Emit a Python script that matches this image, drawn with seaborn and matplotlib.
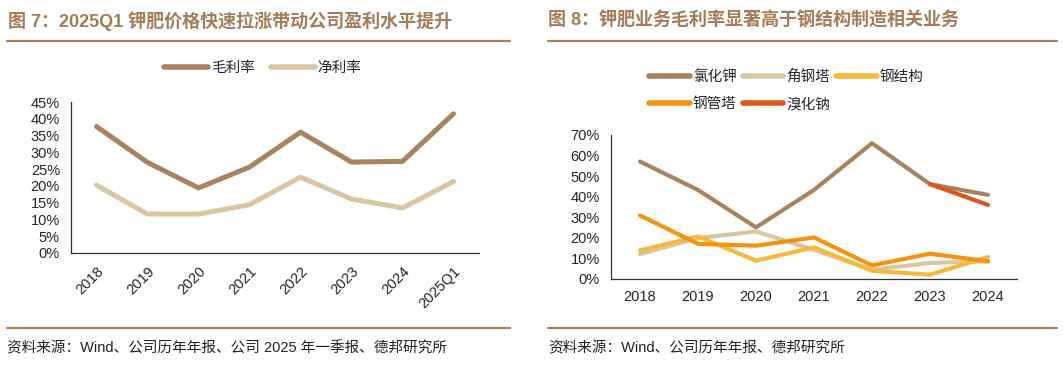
import matplotlib
import matplotlib.pyplot as plt
import pandas as pd
import seaborn as sns
from matplotlib.lines import Line2D
from matplotlib.ticker import FixedLocator, PercentFormatter

matplotlib.use("Agg")

# left chart: margins
years_left = ['2018', '2019', '2020', '2021', '2022', '2023', '2024', '2025Q1']
gross_margin = [37.7, 27.0, 19.4, 25.6, 36.0, 27.1, 27.3, 41.5]
net_margin = [20.2, 11.6, 11.6, 14.4, 22.6, 16.1, 13.4, 21.3]

# right chart: segment gross margins
years_right = ['2018', '2019', '2020', '2021', '2022', '2023', '2024']
kcl = [57.1, 43.3, 25.1, 43.3, 66.0, 46.1, 40.9]
angle_tower = [12.1, 19.9, 23.1, 14.2, 4.5, 7.8, 8.6]
steel_struct = [13.9, 20.7, 8.9, 15.4, 4.0, 2.1, 10.7]
tube_tower = [30.9, 17.1, 16.2, 20.2, 6.6, 12.3, 8.6]
nabr = [None, None, None, None, None, 46.1, 36.0]

BROWN = '#A8835D'
BEIGE = '#D9C7A1'
TITLE_C = '#A47C58'
W, H = 1063, 369

sns.set_style('white')
plt.rcParams['font.family'] = ['Liberation Sans', 'Noto Sans CJK SC']
plt.rcParams['axes.unicode_minus'] = False

fig = plt.figure(figsize=(W / 100, H / 100), dpi=100)


def fx(px):
    return px / W


def fy(py):
    return 1 - py / H


def style_axis(ax, n, ymax, ystep):
    ax.set_xlim(-0.5, n - 0.5)
    ax.set_ylim(0, ymax)
    ax.set_yticks(range(0, ymax + 1, ystep))
    ax.yaxis.set_major_formatter(PercentFormatter(decimals=0))
    ax.xaxis.set_minor_locator(FixedLocator([i - 0.5 for i in range(n + 1)]))
    ax.tick_params(axis='x', which='major', length=0, labelsize=10.5, pad=8)
    ax.tick_params(axis='x', which='minor', length=4, width=0.8, color='#333333', direction='out')
    ax.tick_params(axis='y', length=0, labelsize=10.5, pad=8)
    for s in ['top', 'right']:
        ax.spines[s].set_visible(False)
    for s in ['left', 'bottom']:
        ax.spines[s].set_color('#333333')
        ax.spines[s].set_linewidth(0.9)
    ax.set_xlabel('')
    ax.set_ylabel('')


# ---- left panel ----
left_df = pd.DataFrame({
    'year': years_left * 2,
    'value': gross_margin + net_margin,
    'series': ['毛利率'] * len(years_left) + ['净利率'] * len(years_left),
})
ax1 = fig.add_axes([fx(71), fy(253), fx(408), 151 / H])
sns.lineplot(data=left_df, x='year', y='value', hue='series', sort=False,
             palette={'毛利率': BROWN, '净利率': BEIGE}, linewidth=3.6, legend=False, ax=ax1)
style_axis(ax1, len(years_left), 45, 5)
for lab in ax1.get_xticklabels():
    lab.set_rotation(45)
    lab.set_ha('right')
    lab.set_va('top')
    lab.set_rotation_mode('anchor')

h1 = [Line2D([], [], color=BROWN, lw=4, solid_capstyle='round'),
      Line2D([], [], color=BEIGE, lw=4, solid_capstyle='round')]
fig.legend(h1, ['毛利率', '净利率'], loc='center', bbox_to_anchor=(fx(263), fy(68)), ncol=2,
           frameon=False, fontsize=10.5, handlelength=3.0, handletextpad=0.2, columnspacing=1.1)

# ---- right panel ----
right_names = ['氯化钾', '角钢塔', '钢结构', '钢管塔', '溴化钠']
right_vals = [kcl, angle_tower, steel_struct, tube_tower, nabr]
right_colors = ['#A8835D', '#D9C7A1', '#F6B93B', '#F39410', '#D9561C']
rows = []
for name, vals in zip(right_names, right_vals):
    for y, v in zip(years_right, vals):
        if v is not None:
            rows.append({'year': y, 'value': v, 'series': name})
right_df = pd.DataFrame(rows)
ax2 = fig.add_axes([fx(611), fy(279), fx(406), 144 / H])
sns.lineplot(data=right_df, x='year', y='value', hue='series', hue_order=right_names, sort=False,
             palette=dict(zip(right_names, right_colors)), linewidth=3.0, legend=False, ax=ax2)
style_axis(ax2, len(years_right), 70, 10)

order = [0, 3, 1, 4, 2]
h2 = [Line2D([], [], color=right_colors[i], lw=4, solid_capstyle='round') for i in order]
fig.legend(h2, [right_names[i] for i in order], loc='upper left', bbox_to_anchor=(fx(636), fy(57)),
           ncol=3, frameon=False, fontsize=10.5, handlelength=2.8, handletextpad=0.2,
           columnspacing=0.4, labelspacing=0.9)

# ---- titles, dividers, sources ----
fig.text(fx(8), fy(21), '图 7：2025Q1 钾肥价格快速拉涨带动公司盈利水平提升', fontsize=13,
         fontweight='bold', color=TITLE_C, va='center', ha='left')
fig.text(fx(548), fy(21), '图 8：钾肥业务毛利率显著高于钢结构制造相关业务', fontsize=13,
         fontweight='bold', color=TITLE_C, va='center', ha='left')
for x0, x1 in [(7, 510), (548, 1057)]:
    for yy in [40.5, 327.5]:
        fig.add_artist(Line2D([fx(x0), fx(x1)], [fy(yy), fy(yy)], transform=fig.transFigure,
                              color='#A8835D', lw=1.6))
fig.text(fx(7), fy(348), '资料来源：Wind、公司历年年报、公司 2025 年一季报、德邦研究所', fontsize=10.5,
         color='#222222', va='center', ha='left')
fig.text(fx(548), fy(348), '资料来源：Wind、公司历年年报、德邦研究所', fontsize=10.5,
         color='#222222', va='center', ha='left')

fig.savefig('out.png', dpi=100)
